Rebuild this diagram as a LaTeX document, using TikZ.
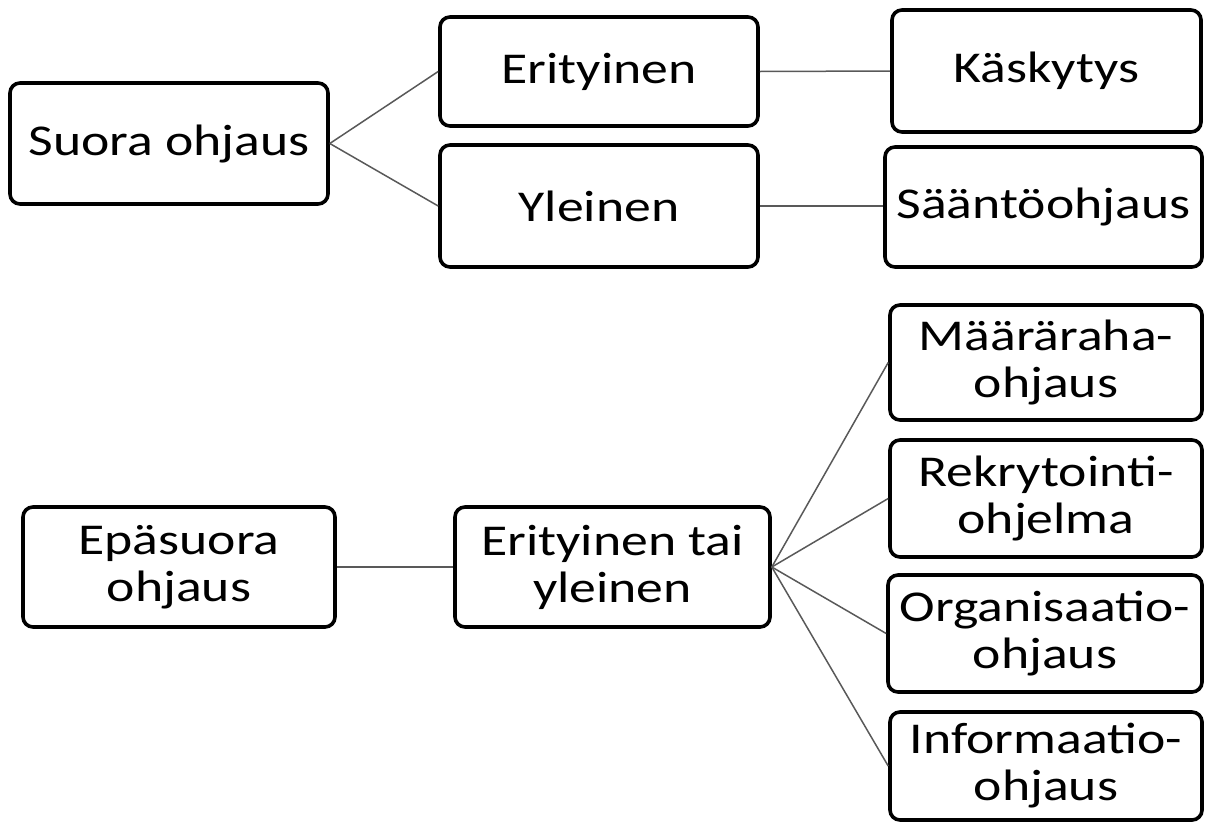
\documentclass[tikz,border=0pt]{standalone}
\usepackage{fontspec}
\setmainfont{Carlito}[FakeStretch=1.22]
\begin{document}
\begin{tikzpicture}[x=0.5pt,y=-0.5pt,
  box/.style={draw=black, line width=1.8pt, rounded corners=5pt, fill=white,
    align=center, font=\fontsize{22}{23.5}\selectfont, inner sep=0pt, text=black},
  conn/.style={draw=black!65, line width=0.75pt}]
\useasboundingbox (0,0) rectangle (1208,825);
% top part
\node[box, minimum width=159pt, minimum height=60.5pt] (suora) at (169,143.5) {Suora ohjaus};
\node[box, minimum width=159pt, minimum height=54.5pt] (erit) at (599,71.5) {Erityinen};
\node[box, minimum width=159pt, minimum height=61pt] (yleinen) at (599,206) {Yleinen};
\node[box, minimum width=154.5pt, minimum height=61pt] (kask) at (1046.5,71) {Käskytys};
\node[box, minimum width=158.5pt, minimum height=60pt] (saanto) at (1043.5,207) {Sääntöohjaus};
% bottom part
\node[box, minimum width=156pt, minimum height=60pt] (epa) at (179,567) {Epäsuora\\ohjaus};
\node[box, minimum width=157.5pt, minimum height=60pt] (ety) at (612.5,567) {Erityinen tai\\yleinen};
\node[box, minimum width=156pt, minimum height=57.5pt] (maar) at (1046,362.5) {Määräraha-\\ohjaus};
\node[box, minimum width=156pt, minimum height=58.5pt] (rekr) at (1046,498.5) {Rekrytointi-\\ohjelma};
\node[box, minimum width=157pt, minimum height=58.5pt] (org) at (1045,633.5) {Organisaatio-\\ohjaus};
\node[box, minimum width=156pt, minimum height=54pt] (info) at (1046,766) {Informaatio-\\ohjaus};
% connectors
\draw[conn] (suora.east) -- (erit.west);
\draw[conn] (suora.east) -- (yleinen.west);
\draw[conn] (erit.east) -- (kask.west);
\draw[conn] (yleinen.east) -- (yleinen.east -| saanto.west);
\draw[conn] (epa.east) -- (ety.west);
\draw[conn] (ety.east) -- (maar.west);
\draw[conn] (ety.east) -- (rekr.west);
\draw[conn] (ety.east) -- (org.west);
\draw[conn] (ety.east) -- (info.west);
\end{tikzpicture}
\end{document}
